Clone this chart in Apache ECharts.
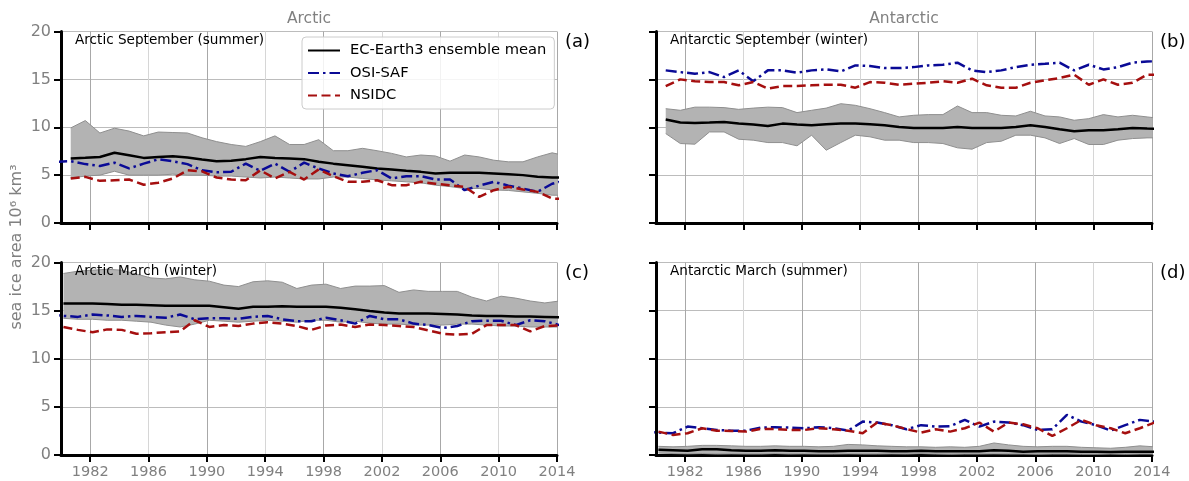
<!DOCTYPE html>
<html><head><meta charset="utf-8">
<script src="https://cdn.jsdelivr.net/npm/echarts@6/dist/echarts.min.js"></script>
<style>html,body{margin:0;padding:0;background:#fff}#c{width:1189px;height:481px}</style>
</head><body><div id="c"></div>
<script>
// ---------- data ----------
const modelYears = [1980,1981,1982,1983,1984,1985,1986,1987,1988,1989,1990,1991,1992,1993,1994,1995,1996,1997,1998,1999,2000,2001,2002,2003,2004,2005,2006,2007,2008,2009,2010,2011,2012,2013,2014];
const obsYears = [1979,1980,1981,1982,1983,1984,1985,1986,1987,1988,1989,1990,1991,1992,1993,1994,1995,1996,1997,1998,1999,2000,2001,2002,2003,2004,2005,2006,2007,2008,2009,2010,2011,2012,2013,2014];
const xTickYears = [1982,1986,1990,1994,1998,2002,2006,2010,2014];
const yTicks = [0,5,10,15,20];

// (a) Arctic September
const aUpper = [9.93,10.7,9.4,9.9,9.6,9.1,9.5,9.45,9.4,8.9,8.5,8.2,8.0,8.5,9.1,8.2,8.2,8.7,7.55,7.55,7.8,7.55,7.27,6.9,7.1,7.0,6.46,7.1,6.9,6.56,6.39,6.39,6.9,7.33,7.0];
const aLower = [4.7,4.9,5.0,5.4,5.0,5.0,5.0,5.1,5.0,5.0,4.9,4.9,4.8,4.7,4.8,4.7,4.6,4.6,4.8,4.8,4.65,4.5,4.4,4.3,4.2,3.95,3.8,3.6,3.6,3.45,3.4,3.25,3.1,2.9,2.9];
const aMean  = [6.74,6.81,6.9,7.33,7.08,6.8,6.9,6.98,6.84,6.64,6.46,6.5,6.67,6.9,6.8,6.74,6.67,6.4,6.2,6.04,5.87,5.69,5.59,5.45,5.34,5.17,5.24,5.24,5.24,5.17,5.1,5.0,4.82,4.75,4.75];
const aOsi   = [6.4,6.45,6.15,5.95,6.3,5.7,6.2,6.65,6.45,6.15,5.5,5.3,5.35,6.2,5.45,6.2,5.35,6.3,5.69,5.17,4.89,5.24,5.52,4.65,4.89,4.89,4.54,4.54,3.43,3.9,4.3,3.9,3.6,3.25,4.1,4.5];
const aNsidc = [null,4.65,4.82,4.4,4.47,4.54,4.0,4.2,4.65,5.5,5.4,4.75,4.54,4.47,5.5,4.65,5.34,4.54,5.6,4.89,4.3,4.3,4.47,3.95,3.95,4.3,4.1,3.95,3.78,2.73,3.43,3.78,3.5,3.25,2.55,2.5];

// (b) Antarctic September
const bUpper = [11.94,11.77,12.1,12.1,12.05,11.87,12.0,12.1,12.05,11.53,11.77,12.0,12.46,12.29,11.94,11.53,11.08,11.25,11.32,11.32,12.22,11.53,11.53,11.25,11.18,11.67,11.18,11.08,10.73,10.9,11.32,11.08,11.25,11.08,10.9];
const bLower = [9.34,8.3,8.23,9.51,9.51,8.75,8.65,8.4,8.4,8.06,9.17,7.6,8.4,9.17,9.0,8.65,8.65,8.4,8.4,8.3,7.85,7.71,8.4,8.54,9.17,9.17,8.89,8.3,8.82,8.2,8.2,8.65,8.82,8.89,8.9];
const bMean  = [10.8,10.49,10.45,10.49,10.56,10.38,10.28,10.14,10.38,10.28,10.21,10.31,10.38,10.38,10.31,10.21,10.03,9.93,9.93,9.93,10.03,9.93,9.93,9.93,10.03,10.21,10.03,9.79,9.58,9.69,9.69,9.79,9.93,9.86,9.85];
const bOsi   = [null,15.94,15.76,15.59,15.76,15.24,15.94,14.8,15.94,15.94,15.7,15.94,16.04,15.83,16.46,16.39,16.18,16.18,16.28,16.46,16.53,16.74,15.94,15.76,15.94,16.28,16.53,16.63,16.74,15.94,16.53,16.04,16.28,16.74,16.87,16.9];
const bNsidc = [null,14.3,15.0,14.8,14.72,14.72,14.38,14.72,14.03,14.3,14.3,14.38,14.44,14.44,14.13,14.72,14.65,14.44,14.55,14.65,14.8,14.65,15.07,14.38,14.13,14.13,14.65,14.9,15.14,15.49,14.44,15.0,14.44,14.65,15.49,15.5];

// (c) Arctic March
const cUpper = [18.86,19.1,19.2,19.3,19.2,18.8,18.4,18.3,18.5,18.2,18.06,17.65,17.5,18.0,18.1,17.95,17.3,17.65,17.75,17.3,17.55,17.55,17.6,16.9,17.15,17.0,17.0,17.0,16.4,16.0,16.5,16.3,16.0,15.8,16.0];
const cLower = [14.2,14.1,14.1,14.0,14.0,13.9,13.8,13.5,13.3,13.6,14.0,13.9,13.8,13.9,14.0,13.9,13.8,14.0,14.0,13.8,13.9,13.7,13.6,13.6,13.5,13.5,13.5,13.6,13.6,13.5,13.4,13.4,13.3,13.3,13.3];
const cMean  = [15.75,15.75,15.75,15.7,15.6,15.6,15.55,15.5,15.5,15.5,15.5,15.35,15.2,15.4,15.4,15.45,15.4,15.4,15.4,15.3,15.15,14.95,14.8,14.7,14.7,14.7,14.65,14.6,14.5,14.45,14.45,14.4,14.38,14.35,14.3];
const cOsi   = [14.6,14.45,14.35,14.6,14.5,14.35,14.45,14.35,14.25,14.6,14.1,14.2,14.2,14.15,14.35,14.45,14.1,13.9,13.9,14.25,14.0,13.65,14.45,14.1,14.1,13.65,13.5,13.2,13.4,13.9,13.95,13.95,13.5,14.0,13.9,13.5];
const cNsidc = [null,13.3,13.0,12.75,13.05,13.0,12.6,12.65,12.75,12.85,14.0,13.3,13.5,13.4,13.65,13.8,13.65,13.4,13.0,13.45,13.55,13.3,13.55,13.5,13.4,13.3,12.95,12.6,12.5,12.6,13.5,13.5,13.5,12.85,13.4,13.45];

// (d) Antarctic March
const dUpper = [0.9,0.85,0.9,1.0,1.0,0.95,0.9,0.9,0.95,0.9,0.9,0.85,0.9,1.1,1.05,0.95,0.9,0.85,0.85,0.8,0.85,0.8,0.9,1.25,1.05,0.9,0.85,0.9,0.9,0.8,0.75,0.7,0.8,0.95,0.85];
const dLower = [0.2,0.15,0.12,0.15,0.1,0.12,0.1,0.1,0.15,0.1,0.12,0.1,0.1,0.12,0.1,0.1,0.12,0.1,0.15,0.1,0.08,0.1,0.1,0.12,0.1,0.1,0.08,0.1,0.1,0.08,0.08,0.1,0.08,0.1,0.1];
const dMean  = [0.55,0.5,0.45,0.6,0.6,0.5,0.45,0.45,0.5,0.45,0.45,0.4,0.4,0.45,0.45,0.45,0.4,0.4,0.45,0.4,0.4,0.4,0.4,0.5,0.45,0.35,0.4,0.4,0.4,0.35,0.35,0.3,0.35,0.35,0.35];
const dOsi   = [2.4,2.33,2.26,2.95,2.78,2.6,2.53,2.53,2.85,2.88,2.85,2.78,2.88,2.8,2.53,3.47,3.37,3.1,2.67,3.1,2.95,3.0,3.65,2.95,3.47,3.37,3.1,2.6,2.67,4.17,3.47,3.1,2.53,3.1,3.65,3.47];
const dNsidc = [null,2.43,2.08,2.26,2.78,2.53,2.5,2.43,2.7,2.7,2.6,2.6,2.78,2.67,2.53,2.26,3.37,3.1,2.7,2.33,2.67,2.43,2.78,3.37,2.43,3.37,3.19,2.78,1.98,2.78,3.65,3.1,2.78,2.26,2.78,3.37];

const colTitles = ['Arctic','Antarctic'];
const panelTitles = ['Arctic September (summer)','Antarctic September (winter)','Arctic March (winter)','Antarctic March (summer)'];
const panelLetters = ['(a)','(b)','(c)','(d)'];
const seriesNames = ['EC-Earth3 ensemble mean','OSI-SAF','NSIDC'];
const yName = 'sea ice area 10\u2076 km\u00b3';

// ---------- layout / style ----------
const SEPT = 8/12, MARCH = 2/12;
const panels = [
  {off: SEPT,  up: aUpper, lo: aLower, mean: aMean, osi: aOsi, ns: aNsidc},
  {off: SEPT,  up: bUpper, lo: bLower, mean: bMean, osi: bOsi, ns: bNsidc},
  {off: MARCH, up: cUpper, lo: cLower, mean: cMean, osi: cOsi, ns: cNsidc},
  {off: MARCH, up: dUpper, lo: dLower, mean: dMean, osi: dOsi, ns: dNsidc}
];
const grids = [
  {left: 61,  top: 31.5,  width: 496, height: 191.5},
  {left: 656, top: 31.5,  width: 496, height: 191.5},
  {left: 61,  top: 262.5, width: 496, height: 192.5},
  {left: 656, top: 262.5, width: 496, height: 192.5}
];
const FONT = 'DejaVu Sans';
const GRAY = '#808080';
const BLUE = '#0a0a96', RED = '#a50f0f';
const BAND_FILL = '#b3b3b3', BAND_EDGE = '#8f8f8f';

function pairs(xs, vs, off) {
  const out = [];
  xs.forEach((y, i) => { if (vs[i] != null) out.push([y + off, vs[i]]); });
  return out;
}

function bandRender(params, api) {
  if (params.dataIndexInside !== 0) return;
  const n = params.dataInsideLength;
  const top = [], bot = [];
  for (let k = 0; k < n; k++) {
    const x = api.value(0, k);
    top.push(api.coord([x, api.value(2, k)]));
    bot.push(api.coord([x, api.value(1, k)]));
  }
  const pts = top.concat(bot.reverse());
  const cs = params.coordSys;
  return {
    type: 'polygon',
    shape: {points: pts},
    style: {fill: BAND_FILL, stroke: null},
    clipPath: {type: 'rect', shape: {x: cs.x, y: cs.y, width: cs.width, height: cs.height}}
  };
}

const xAxes = [], yAxes = [], series = [];
panels.forEach((p, i) => {
  const bottomRow = i >= 2, leftCol = i % 2 === 0;
  xAxes.push({
    gridIndex: i, type: 'value', min: 1980, max: 2014,
    axisLine: {show: true, onZero: false, lineStyle: {color: '#000', width: 3}},
    axisTick: {show: true, length: 7, customValues: xTickYears, lineStyle: {color: '#000', width: 2}},
    axisLabel: {show: bottomRow, customValues: xTickYears, formatter: v => String(v),
      color: GRAY, fontSize: 14.5, fontFamily: FONT, margin: 10},
    splitLine: {show: true, lineStyle: {color: ['#a8a8a8', '#d6d6d6'], width: 1}}
  });
  yAxes.push({
    gridIndex: i, type: 'value', min: 0, max: 20, interval: 5,
    axisLine: {show: true, onZero: false, lineStyle: {color: '#000', width: 3}},
    axisTick: {show: true, length: 7, lineStyle: {color: '#000', width: 2}},
    axisLabel: {show: leftCol, formatter: v => String(v), color: GRAY, fontSize: 16, fontFamily: FONT, margin: 10},
    splitLine: {show: true, lineStyle: {color: '#bcbcbc', width: 1}}
  });
  const common = {xAxisIndex: i, yAxisIndex: i, symbol: 'none', showSymbol: false, silent: true, clip: true, animation: false};
  series.push(Object.assign({}, common, {
    type: 'custom', name: 'band-' + i, z: 1,
    data: modelYears.map((y, k) => [y + p.off, p.lo[k], p.up[k]]),
    encode: {x: 0, y: [1, 2]},
    renderItem: bandRender
  }));
  series.push(Object.assign({}, common, {
    type: 'line', name: 'band-low-' + i, z: 2, data: pairs(modelYears, p.lo, p.off),
    lineStyle: {color: BAND_EDGE, width: 1}
  }));
  series.push(Object.assign({}, common, {
    type: 'line', name: 'band-up-' + i, z: 2, data: pairs(modelYears, p.up, p.off),
    lineStyle: {color: BAND_EDGE, width: 1}
  }));
  series.push(Object.assign({}, common, {
    type: 'line', name: seriesNames[0], data: pairs(modelYears, p.mean, p.off), z: 3,
    itemStyle: {color: '#000'}, lineStyle: {color: '#000', width: 2.5}
  }));
  series.push(Object.assign({}, common, {
    type: 'line', name: seriesNames[1], data: pairs(obsYears, p.osi, p.off), z: 4,
    itemStyle: {color: BLUE}, lineStyle: {color: BLUE, width: 2.5, type: [11, 4, 2.5, 4]}
  }));
  series.push(Object.assign({}, common, {
    type: 'line', name: seriesNames[2], data: pairs(obsYears, p.ns, p.off), z: 5,
    itemStyle: {color: RED}, lineStyle: {color: RED, width: 2.5, type: [9, 4.5]}
  }));
});

const graphics = [];
colTitles.forEach((t, c) => {
  const g = grids[c];
  graphics.push({type: 'text', x: g.left + g.width / 2, y: 19,
    style: {text: t, fill: GRAY, font: '15.5px "' + FONT + '"', textAlign: 'center', textVerticalAlign: 'middle'}});
});
panelTitles.forEach((t, i) => {
  const g = grids[i];
  graphics.push({type: 'text', x: g.left + 14, y: g.top + 8.5, z: 10,
    style: {text: t, fill: '#000', font: '13.6px "' + FONT + '"', textAlign: 'left', textVerticalAlign: 'middle'}});
  graphics.push({type: 'text', x: g.left + g.width + 8, y: g.top + 11, z: 10,
    style: {text: panelLetters[i], fill: '#000', font: '18px "' + FONT + '"', textAlign: 'left', textVerticalAlign: 'middle'}});
});
graphics.push({type: 'text', x: 17, y: 247, rotation: Math.PI / 2,
  style: {text: yName, fill: GRAY, font: '16px "' + FONT + '"', textAlign: 'center', textVerticalAlign: 'middle'}});

const chart = echarts.init(document.getElementById('c'), null, {renderer: 'canvas'});
chart.setOption({
  animation: false,
  backgroundColor: '#fff',
  grid: grids.map(g => Object.assign({containLabel: false, outerBoundsMode: 'none'}, g)),
  xAxis: xAxes,
  yAxis: yAxes,
  legend: {
    data: seriesNames, orient: 'vertical', left: 302, top: 37,
    padding: [6, 8, 6, 5], itemGap: 7.5, itemWidth: 32, itemHeight: 14,
    itemStyle: {opacity: 0},
    backgroundColor: 'rgba(255,255,255,0.85)', borderColor: '#cccccc', borderWidth: 1, borderRadius: 4,
    textStyle: {color: '#000', fontSize: 14.7, fontFamily: FONT, padding: [0, 0, 0, 5]},
    selectedMode: false, z: 20
  },
  series: series,
  graphic: graphics
});
</script>
</body></html>
